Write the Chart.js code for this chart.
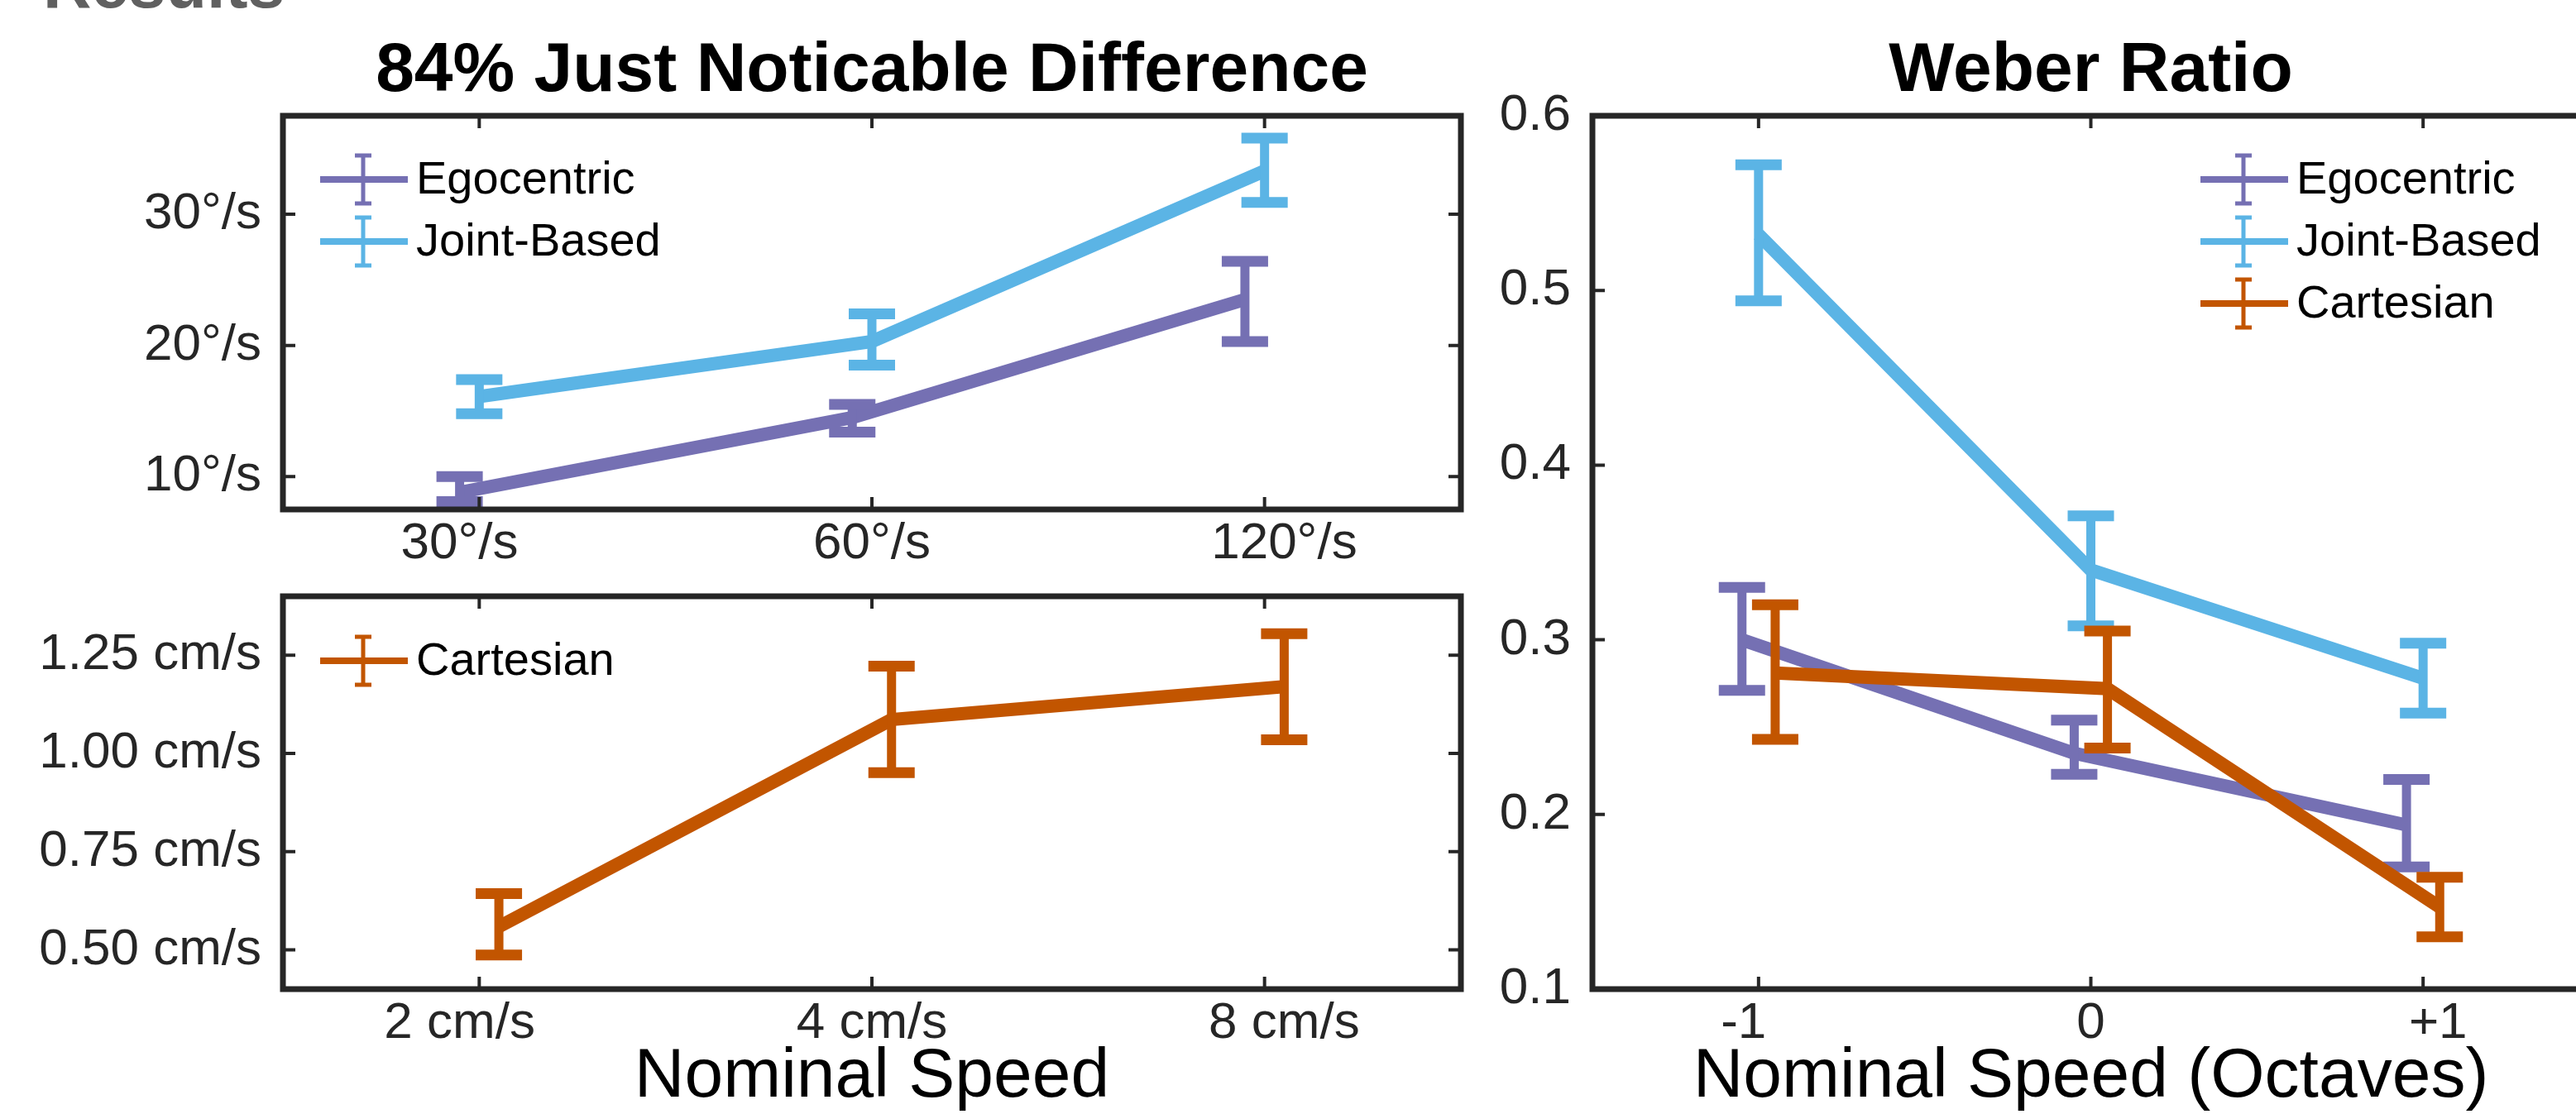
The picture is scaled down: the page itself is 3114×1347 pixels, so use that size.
<!DOCTYPE html>
<html>
<head>
<meta charset="utf-8">
<script src="https://cdn.jsdelivr.net/npm/chart.js@4.4.1/dist/chart.umd.min.js"></script>
<style>
  html, body { margin: 0; padding: 0; background: #fff; overflow: hidden; }
  body { width: 3114px; height: 1347px; position: relative; }
  canvas { position: absolute; left: 0; top: 0; }
  #heading { position: absolute; left: 52px; top: -65px; line-height: 81px;
             font: bold 81px "Liberation Sans", Arial, sans-serif; color: #606060; }
</style>
</head>
<body>
<div id="heading">Results</div>
<canvas id="jndDeg" width="3140" height="1347"></canvas>
<canvas id="jndCm" width="3140" height="1347"></canvas>
<canvas id="weber" width="3140" height="1347"></canvas>
<script>
// --- categories / tick labels ---
const degSpeeds = ['30°/s', '60°/s', '120°/s'];
const cmSpeeds = ['2 cm/s', '4 cm/s', '8 cm/s'];
const octaves = ['-1', '0', '+1'];

const degTicks = [10, 20, 30];
const cmTicks = [0.5, 0.75, 1.0, 1.25];
const weberTicks = [0.1, 0.2, 0.3, 0.4, 0.5, 0.6];

// --- 84% JND, angular speeds (deg/s) ---
const jndEgo = [8.8, 14.5, 23.5];
const jndEgoLo = [8.1, 13.4, 20.3];
const jndEgoHi = [10.0, 15.5, 26.4];

const jndJoint = [16.1, 20.3, 33.3];
const jndJointLo = [14.8, 18.5, 30.9];
const jndJointHi = [17.4, 22.4, 35.8];

// --- 84% JND, cartesian (cm/s) ---
const jndCart = [0.559, 1.086, 1.17];
const jndCartLo = [0.487, 0.951, 1.035];
const jndCartHi = [0.643, 1.222, 1.305];

// --- Weber ratio ---
const weberEgo = [0.300, 0.235, 0.194];
const weberEgoLo = [0.271, 0.223, 0.170];
const weberEgoHi = [0.330, 0.254, 0.220];

const weberJoint = [0.532, 0.340, 0.278];
const weberJointLo = [0.494, 0.308, 0.258];
const weberJointHi = [0.572, 0.371, 0.298];

const weberCart = [0.281, 0.272, 0.147];
const weberCartLo = [0.243, 0.238, 0.130];
const weberCartHi = [0.320, 0.305, 0.164];

const FONT = '"Liberation Sans", Arial, sans-serif';
const INK = '#262626';
const COLORS = { ego: '#7570B3', joint: '#5BB4E5', cart: '#C25500' };
const DODGE = { ego: -0.05, joint: 0, cart: 0.05 };
const ORDER = { ego: 3, joint: 2, cart: 1 };   // cartesian drawn on top

function series(label, key, vals, lo, hi) {
    return {
        label: label,
        data: vals.map((v, i) => ({ x: i + DODGE[key], y: v })),
        errLo: lo, errHi: hi,
        order: ORDER[key],
        borderColor: COLORS[key], backgroundColor: COLORS[key],
        borderWidth: 16, pointRadius: 0, tension: 0, fill: false
    };
}

// error bars: stem + caps, drawn right after each dataset's line
const errorBars = {
    id: 'errorBars',
    afterDatasetDraw(chart, args) {
        const ds = chart.data.datasets[args.index];
        if (!ds.errLo) return;
        const xs = chart.scales.x, ys = chart.scales.y;
        const ctx = chart.ctx, a = chart.chartArea;
        ctx.save();
        ctx.beginPath();
        ctx.rect(a.left, a.top, a.right - a.left, a.bottom - a.top);
        ctx.clip();
        ctx.strokeStyle = ds.borderColor;
        ds.data.forEach((p, i) => {
            const x = xs.getPixelForValue(p.x);
            const yl = ys.getPixelForValue(ds.errLo[i]);
            const yh = ys.getPixelForValue(ds.errHi[i]);
            ctx.lineWidth = 11;
            ctx.beginPath(); ctx.moveTo(x, yl); ctx.lineTo(x, yh); ctx.stroke();
            ctx.lineWidth = 13;
            ctx.beginPath();
            ctx.moveTo(x - 28, yl); ctx.lineTo(x + 28, yl);
            ctx.moveTo(x - 28, yh); ctx.lineTo(x + 28, yh);
            ctx.stroke();
        });
        ctx.restore();
    }
};

// matlab style box with inward ticks on all four sides
const boxFrame = {
    id: 'boxFrame',
    afterDatasetsDraw(chart) {
        const { ctx, chartArea: a, scales } = chart;
        ctx.save();
        ctx.strokeStyle = INK;
        ctx.lineWidth = 4;
        ctx.beginPath();
        scales.x.ticks.forEach(t => {
            // tick marks sit on the category, labels are spread slightly
            const x = scales.x.getPixelForValue(Math.round(t.value));
            ctx.moveTo(x, a.top); ctx.lineTo(x, a.top + 15);
            ctx.moveTo(x, a.bottom); ctx.lineTo(x, a.bottom - 15);
        });
        scales.y.ticks.forEach(t => {
            const y = scales.y.getPixelForValue(t.value);
            ctx.moveTo(a.left, y); ctx.lineTo(a.left + 15, y);
            ctx.moveTo(a.right, y); ctx.lineTo(a.right - 15, y);
        });
        ctx.stroke();
        ctx.lineWidth = 7;
        ctx.strokeRect(a.left, a.top, a.right - a.left, a.bottom - a.top);
        ctx.restore();
    }
};

// legend with errorbar glyphs
const errLegend = {
    id: 'errLegend',
    afterDraw(chart, args, opts) {
        const { ctx, chartArea: a } = chart;
        ctx.save();
        ctx.font = '56px ' + FONT;
        ctx.textBaseline = 'middle';
        ctx.fillStyle = '#000';
        chart.data.datasets.forEach((ds, i) => {
            const x0 = a.left + opts.dx, x1 = x0 + 106, xm = x0 + 52;
            const y = a.top + opts.dy + i * 75;
            ctx.strokeStyle = ds.borderColor;
            ctx.lineWidth = 8;
            ctx.beginPath(); ctx.moveTo(x0, y); ctx.lineTo(x1, y); ctx.stroke();
            ctx.lineWidth = 5;
            ctx.beginPath();
            ctx.moveTo(xm, y - 31); ctx.lineTo(xm, y + 31);
            ctx.moveTo(xm - 10, y - 29); ctx.lineTo(xm + 10, y - 29);
            ctx.moveTo(xm - 10, y + 29); ctx.lineTo(xm + 10, y + 29);
            ctx.stroke();
            ctx.fillText(ds.label, x0 + 116, y + 2);
        });
        ctx.restore();
    }
};

function xAxis(labels, height, spread, title) {
    const ax = {
        type: 'linear', min: -0.5, max: 2.5,
        afterBuildTicks: s => { s.ticks = labels.map((_, i) => ({ value: i + (i - 1) * spread })); },
        afterFit: s => { s.height = height; },
        grid: { display: false, drawTicks: false },
        border: { display: false },
        ticks: { callback: (v, i) => labels[i], font: { family: FONT, size: 62, lineHeight: 1 },
                 color: INK, padding: 11, maxRotation: 0, autoSkip: false }
    };
    if (title) {
        ax.title = { display: true, text: title, color: '#000',
                     font: { family: FONT, size: 84, lineHeight: 1 }, padding: { top: 0, bottom: 2 } };
    }
    return ax;
}

function yAxis(tickVals, min, max, fmt) {
    return {
        min: min, max: max,
        afterBuildTicks: s => { s.ticks = tickVals.map(v => ({ value: v })); },
        afterFit: s => { s.width = 300; },
        grid: { display: false, drawTicks: false },
        border: { display: false },
        ticks: { callback: (v, i) => fmt(tickVals[i]), font: { family: FONT, size: 62, lineHeight: 1 },
                 color: INK, padding: 26, autoSkip: false }
    };
}

function titleOpts(text) {
    return { display: true, text: text, fullSize: false, color: '#000',
             font: { family: FONT, size: 84, weight: 'bold', lineHeight: 1 },
             padding: { top: 45, bottom: 11 } };
}

function makeChart(id, datasets, scales, padding, title, legendPos) {
    return new Chart(document.getElementById(id).getContext('2d'), {
        type: 'line',
        data: { datasets: datasets },
        options: {
            responsive: false, animation: false, devicePixelRatio: 1,
            layout: { padding: padding },
            scales: scales,
            plugins: {
                legend: { display: false },
                tooltip: { enabled: false },
                title: title ? titleOpts(title) : { display: false },
                errLegend: legendPos
            }
        },
        plugins: [errorBars, boxFrame, errLegend]
    });
}

// top left: angular JND
makeChart('jndDeg', [
    series('Egocentric', 'ego', jndEgo, jndEgoLo, jndEgoHi),
    series('Joint-Based', 'joint', jndJoint, jndJointLo, jndJointHi)
], {
    x: xAxis(degSpeeds, 731, 0.05),
    y: yAxis(degTicks, 7.5, 37.5, v => v + '°/s')
}, { left: 42, right: 1374, top: 0, bottom: 0 }, '84% Just Noticable Difference', { dx: 45, dy: 77 });

// bottom left: cartesian JND
makeChart('jndCm', [
    series('Cartesian', 'cart', jndCart, jndCartLo, jndCartHi)
], {
    x: xAxis(cmSpeeds, 151, 0.05, 'Nominal Speed'),
    y: yAxis(cmTicks, 0.4, 1.4, v => v.toFixed(2) + ' cm/s')
}, { left: 42, right: 1374, top: 721, bottom: 0 }, null, { dx: 45, dy: 78 });

// right: Weber ratio
makeChart('weber', [
    series('Egocentric', 'ego', weberEgo, weberEgoLo, weberEgoHi),
    series('Joint-Based', 'joint', weberJoint, weberJointLo, weberJointHi),
    series('Cartesian', 'cart', weberCart, weberCartLo, weberCartHi)
], {
    x: xAxis(octaves, 151, 0.045, 'Nominal Speed (Octaves)'),
    y: yAxis(weberTicks, 0.1, 0.6, v => v.toFixed(1))
}, { left: 1625, right: 10, top: 0, bottom: 0 }, 'Weber Ratio', { dx: 735, dy: 77 });
</script>
</body>
</html>
